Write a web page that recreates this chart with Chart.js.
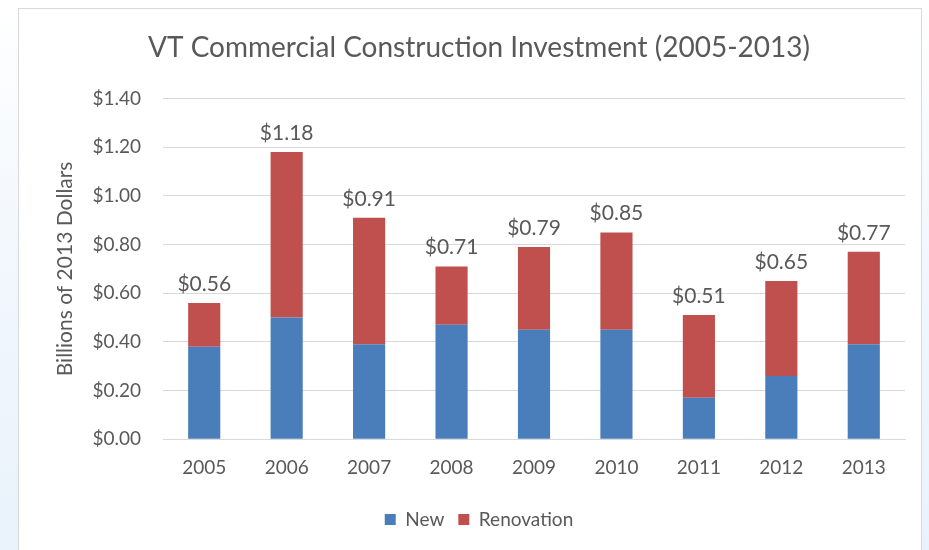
<!DOCTYPE html>
<html>
<head>
<meta charset="utf-8">
<script src="https://cdn.jsdelivr.net/npm/chart.js@4.4.0/dist/chart.umd.min.js"></script>
<style>
  html, body { margin: 0; padding: 0; }
  body {
    width: 929px; height: 550px; overflow: hidden;
    background: linear-gradient(to bottom, #ffffff 0%, #f3f8fd 40%, #e9f2fb 100%);
    position: relative;
  }
  #frame {
    position: absolute; left: 18px; top: 8px; width: 904px; height: 550px;
    background: #ffffff; border: 1px solid #d9d9d9; box-sizing: border-box;
  }
  #wrap { position: absolute; left: 0; top: 0; width: 903px; height: 542px; }
</style>
</head>
<body>
<div id="frame"><div id="wrap"><canvas id="c"></canvas></div></div>
<script>
const categories = ['2005','2006','2007','2008','2009','2010','2011','2012','2013'];
const newValues = [0.38, 0.50, 0.39, 0.47, 0.45, 0.45, 0.17, 0.26, 0.39];
const renovationValues = [0.18, 0.68, 0.52, 0.24, 0.34, 0.40, 0.34, 0.39, 0.38];
const totalLabels = ['$0.56','$1.18','$0.91','$0.71','$0.79','$0.85','$0.51','$0.65','$0.77'];
const yTicks = [0, 0.2, 0.4, 0.6, 0.8, 1.0, 1.2, 1.4];

const FONT = 'Lato, "Open Sans", sans-serif';
const GRAY = '#595959';

const totalsPlugin = {
  id: 'totals',
  afterDatasetsDraw(chart) {
    const ctx = chart.ctx;
    const meta = chart.getDatasetMeta(1);
    ctx.save();
    ctx.font = '21px ' + FONT;
    ctx.fillStyle = GRAY;
    ctx.textAlign = 'center';
    ctx.textBaseline = 'middle';
    meta.data.forEach((bar, i) => {
      ctx.fillText(totalLabels[i], bar.x, bar.y - 19);
    });
    ctx.restore();
  }
};

new Chart(document.getElementById('c'), {
  type: 'bar',
  data: {
    labels: categories,
    datasets: [
      { label: 'New', data: newValues, backgroundColor: '#4a7ebb', borderWidth: 0 },
      { label: 'Renovation', data: renovationValues, backgroundColor: '#c0504d', borderWidth: 0 }
    ]
  },
  options: {
    responsive: true,
    maintainAspectRatio: false,
    animation: false,
    layout: { padding: { left: 34, right: 17, top: 0, bottom: 12 } },
    datasets: { bar: { categoryPercentage: 1.0, barPercentage: 0.39 } },
    plugins: {
      title: {
        display: true,
        text: 'VT Commercial Construction Investment (2005-2013)',
        color: GRAY,
        font: { family: FONT, size: 28, weight: 'normal' },
        padding: { top: 22, bottom: 34 }
      },
      legend: {
        position: 'bottom',
        labels: {
          color: GRAY,
          font: { family: FONT, size: 19 },
          boxWidth: 11, boxHeight: 11,
          padding: 14
        }
      },
      tooltip: { enabled: false }
    },
    scales: {
      x: {
        stacked: true,
        grid: { display: false, drawTicks: false },
        border: { display: true, color: '#d9d9d9' },
        ticks: { color: GRAY, font: { family: FONT, size: 19 }, padding: 17 }
      },
      y: {
        stacked: true,
        min: 0, max: 1.4,
        afterBuildTicks(scale) { scale.ticks = yTicks.map(v => ({ value: v })); },
        afterFit(scale) { scale.width = 110; },
        grid: { color: '#d9d9d9', drawTicks: false },
        border: { display: false },
        ticks: {
          color: GRAY, font: { family: FONT, size: 19 }, padding: 22,
          callback: v => '$' + Number(v).toFixed(2)
        },
        title: {
          display: true, text: 'Billions of 2013 Dollars', color: GRAY,
          font: { family: FONT, size: 21 }, padding: { top: 0, bottom: 0 }
        }
      }
    }
  },
  plugins: [totalsPlugin]
});
</script>
</body>
</html>
